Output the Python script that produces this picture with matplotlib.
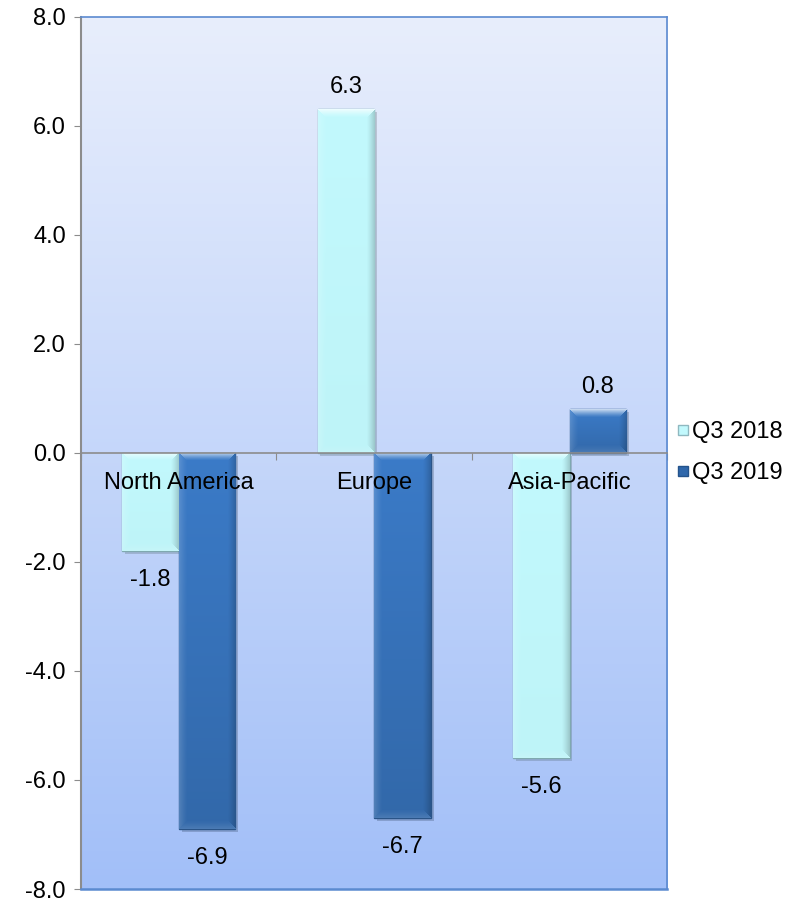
import numpy as np
import matplotlib
matplotlib.use("Agg")
import matplotlib.pyplot as plt
from matplotlib import patheffects
from matplotlib.lines import Line2D

regions = ["North America", "Europe", "Asia-Pacific"]
series = ["Q3 2018", "Q3 2019"]
q3_2018 = [-1.8, 6.3, -5.6]
q3_2019 = [-6.9, -6.7, 0.8]

plt.rcParams["font.family"] = ["Liberation Sans", "DejaVu Sans"]
plt.rcParams["font.size"] = 17

fig = plt.figure(figsize=(8.03, 9.02), dpi=100)
ax = fig.add_axes([0.101, 0.0144, 0.730, 0.9670])
ax.set_xlim(-0.5, 2.5)
ax.set_ylim(-8, 8)

# vertical gradient plot area
grad = np.linspace(0, 1, 256)[:, None]
top = np.array([232, 238, 252]) / 255
bot = np.array([162, 191, 248]) / 255
img = top + (bot - top) * grad[..., None]
ax.imshow(img, extent=[0, 1, 0, 1], transform=ax.transAxes, aspect="auto", zorder=0)

x = np.arange(len(regions))
w = 0.29
light = "#c2f9fd"
dark = "#3b7bc8"
shadow = [patheffects.SimplePatchShadow(offset=(2, -2), alpha=0.22), patheffects.Normal()]


def bevel_image(color, wpx, hpx, darken_down, b=8):
    # beveled face: bright top edge, soft left, darker right side
    c = np.array(matplotlib.colors.to_rgb(color))
    wpx, hpx = max(int(round(wpx)), 2), max(int(round(hpx)), 2)
    yy, xx = np.mgrid[0:hpx, 0:wpx].astype(float)
    # slight vertical shading over the face
    fall = 1 - darken_down * (yy / max(hpx - 1, 1))
    out = c[None, None, :] * fall[..., None]
    dt, db = yy, hpx - 1 - yy
    dl, dr = xx, wpx - 1 - xx
    d = np.stack([dt, db, dl, dr])
    side = np.argmin(d, axis=0)
    dmin = d.min(axis=0)
    ramp = np.clip(1 - dmin / b, 0, 1) ** 1.3
    white, black = np.ones(3), np.zeros(3)
    mix = {0: (white, 0.7), 1: (white, 0.12), 2: (white, 0.15), 3: (black, 0.18)}
    for s, (tgt, a) in mix.items():
        m = side == s
        k = (a * ramp)[..., None] * m[..., None]
        out = out * (1 - k) + tgt * k
    return np.clip(out, 0, 1)


def bevel_bars(xs, vals, color, edge, darken_down):
    bars = ax.bar(xs, vals, w, color=color, edgecolor=edge, linewidth=1.0, zorder=1,
                  path_effects=shadow)
    for b in bars:
        x0, y0 = b.get_x(), b.get_y()
        x1, y1 = x0 + b.get_width(), y0 + b.get_height()
        ylo, yhi = min(y0, y1), max(y0, y1)
        p0 = ax.transData.transform((x0, ylo))
        p1 = ax.transData.transform((x1, yhi))
        g = bevel_image(color, p1[0] - p0[0], p1[1] - p0[1], darken_down)
        im = ax.imshow(g, extent=[x0, x1, ylo, yhi], origin="upper", aspect="auto",
                       zorder=1.1, interpolation="bilinear")
        im.set_clip_path(b)
    return bars


b1 = bevel_bars(x - w / 2, q3_2018, light, "#7fa9b0", 0.02)
b2 = bevel_bars(x + w / 2, q3_2019, dark, "#2a5488", 0.15)

for bars, vals in ((b1, q3_2018), (b2, q3_2019)):
    for b, v in zip(bars, vals):
        cx = b.get_x() + b.get_width() / 2
        if v >= 0:
            ax.annotate(f"{v:.1f}", (cx, v), xytext=(0, 8), textcoords="offset points",
                        ha="center", va="bottom", zorder=5)
        else:
            ax.annotate(f"{v:.1f}", (cx, v), xytext=(0, -13), textcoords="offset points",
                        ha="center", va="top", zorder=5)

ax.set_yticks(np.arange(-8, 8.1, 2))
ax.yaxis.set_major_formatter(matplotlib.ticker.FormatStrFormatter("%.1f"))
ax.tick_params(axis="y", length=5, color="#8c8c8c", pad=6)

# category axis sits on the zero line
ax.spines["bottom"].set_position(("data", 0))
ax.spines["bottom"].set_color("#8c8c8c")
ax.spines["bottom"].set_linewidth(1.2)
ax.set_xticks([-0.5, 0.5, 1.5, 2.5])
ax.set_xticklabels([])
ax.set_xticks(x, minor=True)
ax.set_xticklabels(regions, minor=True)
ax.tick_params(axis="x", which="major", length=5, color="#8c8c8c", direction="out")
ax.tick_params(axis="x", which="minor", length=0, pad=14)

ax.spines["left"].set_color("#8c8c8c")
ax.spines["left"].set_linewidth(1.5)
for s in ("top", "right"):
    ax.spines[s].set_color("#5b8ad0")
    ax.spines[s].set_linewidth(1.2)
ax.plot([0, 1], [0, 0], transform=ax.transAxes, color="#5b8ad0", lw=1.8, clip_on=False, zorder=3)

handles = [Line2D([], [], marker="s", linestyle="", markersize=7.5, markerfacecolor=light,
                  markeredgecolor="#8fb8c0"),
           Line2D([], [], marker="s", linestyle="", markersize=7.5, markerfacecolor="#2f67ab",
                  markeredgecolor="#24538c")]
fig.legend(handles, series, loc="center left", bbox_to_anchor=(0.824, 0.498), frameon=False,
           handletextpad=0.0, handlelength=0.8, labelspacing=0.8, borderpad=0)

fig.savefig("out.png", dpi=100)
